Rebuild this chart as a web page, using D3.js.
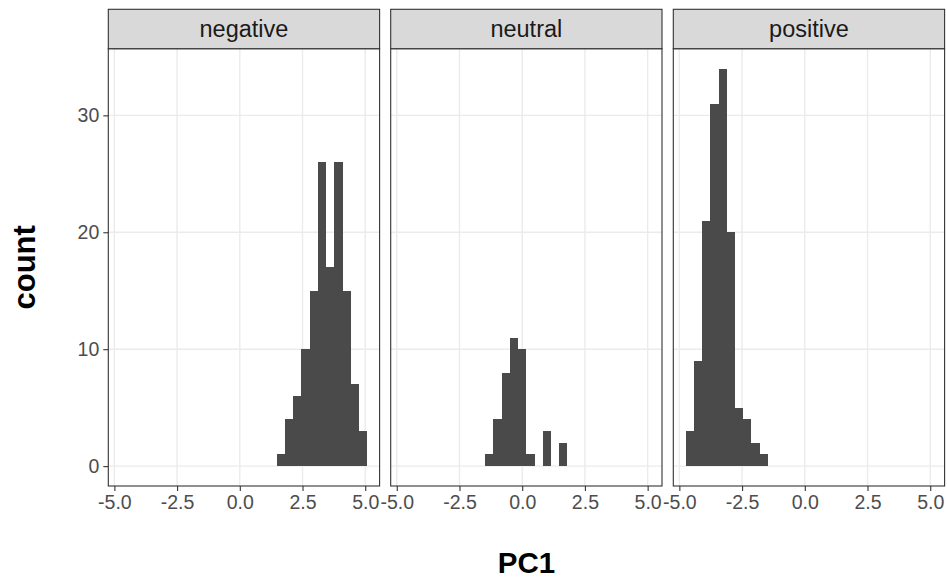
<!DOCTYPE html>
<html>
<head>
<meta charset="utf-8">
<script src="https://cdn.jsdelivr.net/npm/d3@7"></script>
<style>
  html, body { margin: 0; padding: 0; background: #ffffff; }
  svg { display: block; }
  text { font-family: "Liberation Sans", Arial, Helvetica, sans-serif; }
</style>
</head>
<body>
<svg id="chart" width="947" height="577"></svg>
<script>
// Histogram bins (shared across facets): lower edge of the first bin and bin width
const binStart = -4.75;
const binWidth = 0.3277;

// Facet labels
const facets = ["negative", "neutral", "positive"];

// Counts per bin (30 bins) for each facet
const countsNegative = [0,0,0,0,0,0,0,0,0,0, 0,0,0,0,0,0,0,0,0,1, 4,6,10,15,26,17,26,15,7,3];
const countsNeutral  = [0,0,0,0,0,0,0,0,0,0, 1,4,8,11,10,1,0,3,0,2, 0,0,0,0,0,0,0,0,0,0];
const countsPositive = [3,9,21,31,34,20,5,4,2,1, 0,0,0,0,0,0,0,0,0,0, 0,0,0,0,0,0,0,0,0,0];

// Axis ticks
const xTicks = [-5, -2.5, 0, 2.5, 5];
const yTicks = [0, 10, 20, 30];

const xLabel = "PC1";
const yLabel = "count";

const seriesByFacet = {
  negative: countsNegative,
  neutral: countsNeutral,
  positive: countsPositive
};

// Layout
const panelLefts = [108.3, 390.7, 673.3];
const panelWidth = 271.3;
const stripTop = 9.3;
const panelTop = 48.7;
const panelBottom = 486;

const svg = d3.select("#chart");

// Scales: shared x domain (data range of bins + 5% expansion), shared y domain
const xMin = binStart, xMax = binStart + binWidth * 30;
const xPad = (xMax - xMin) * 0.05;
const yMaxCount = d3.max([countsNegative, countsNeutral, countsPositive].flat());
const yPad = yMaxCount * 0.05;

const y = d3.scaleLinear()
  .domain([-yPad, yMaxCount + yPad])
  .range([panelBottom, panelTop]);

// one decimal, plain hyphen-minus for negatives
const fmt = d => d3.format(".1f")(d).replace("\u2212", "-");

facets.forEach((name, i) => {
  const left = panelLefts[i];
  const x = d3.scaleLinear()
    .domain([xMin - xPad, xMax + xPad])
    .range([left, left + panelWidth]);

  const g = svg.append("g");

  // panel background
  g.append("rect")
    .attr("x", left).attr("y", panelTop)
    .attr("width", panelWidth).attr("height", panelBottom - panelTop)
    .attr("fill", "#ffffff");

  // major grid lines
  g.selectAll("line.gx").data(xTicks).join("line")
    .attr("x1", d => x(d)).attr("x2", d => x(d))
    .attr("y1", panelTop).attr("y2", panelBottom)
    .attr("stroke", "#ebebeb").attr("stroke-width", 1.4);
  g.selectAll("line.gy").data(yTicks).join("line")
    .attr("x1", left).attr("x2", left + panelWidth)
    .attr("y1", d => y(d)).attr("y2", d => y(d))
    .attr("stroke", "#ebebeb").attr("stroke-width", 1.4);

  // histogram bars
  const bins = seriesByFacet[name].map((c, k) => ({
    x0: binStart + k * binWidth,
    x1: binStart + (k + 1) * binWidth,
    count: c
  })).filter(b => b.count > 0);

  g.selectAll("rect.bar").data(bins).join("rect")
    .attr("x", d => x(d.x0))
    .attr("width", d => x(d.x1) - x(d.x0))
    .attr("y", d => y(d.count))
    .attr("height", d => y(0) - y(d.count))
    .attr("fill", "#4a4a4a")
    .attr("shape-rendering", "crispEdges");

  // panel border
  g.append("rect")
    .attr("x", left).attr("y", panelTop)
    .attr("width", panelWidth).attr("height", panelBottom - panelTop)
    .attr("fill", "none").attr("stroke", "#333333").attr("stroke-width", 1.1);

  // strip
  g.append("rect")
    .attr("x", left).attr("y", stripTop)
    .attr("width", panelWidth).attr("height", panelTop - stripTop)
    .attr("fill", "#d9d9d9").attr("stroke", "#333333").attr("stroke-width", 1.1);
  g.append("text")
    .attr("x", left + panelWidth / 2)
    .attr("y", (stripTop + panelTop) / 2)
    .attr("dy", "0.35em")
    .attr("text-anchor", "middle")
    .attr("font-size", 23.5)
    .attr("fill", "#1a1a1a")
    .text(name);

  // x axis
  const xAxis = d3.axisBottom(x).tickValues(xTicks).tickFormat(fmt).tickSize(5).tickPadding(4);
  const gx = g.append("g").attr("transform", `translate(0,${panelBottom})`).call(xAxis);
  gx.select(".domain").remove();
  gx.selectAll(".tick line").attr("stroke", "#333333").attr("stroke-width", 1.1);
  gx.selectAll(".tick text")
    .attr("font-size", 19.5).attr("fill", "#4d4d4d")
    .style("font-family", "'Liberation Sans', Arial, sans-serif");

  // y axis on first panel only
  if (i === 0) {
    const yAxis = d3.axisLeft(y).tickValues(yTicks).tickSize(5).tickPadding(4);
    const gy = g.append("g").attr("transform", `translate(${left},0)`).call(yAxis);
    gy.select(".domain").remove();
    gy.selectAll(".tick line").attr("stroke", "#333333").attr("stroke-width", 1.1);
    gy.selectAll(".tick text")
      .attr("font-size", 19.5).attr("fill", "#4d4d4d")
      .style("font-family", "'Liberation Sans', Arial, sans-serif");
  }
});

// axis titles
svg.append("text")
  .attr("x", (panelLefts[0] + panelLefts[2] + panelWidth) / 2)
  .attr("y", 572.5)
  .attr("text-anchor", "middle")
  .attr("font-size", 29.5)
  .attr("font-weight", "bold")
  .attr("fill", "#000000")
  .text(xLabel);

svg.append("text")
  .attr("transform", `translate(35,${(panelTop + panelBottom) / 2}) rotate(-90)`)
  .attr("text-anchor", "middle")
  .attr("font-size", 31)
  .attr("font-weight", "bold")
  .attr("fill", "#000000")
  .text(yLabel);
</script>
</body>
</html>
